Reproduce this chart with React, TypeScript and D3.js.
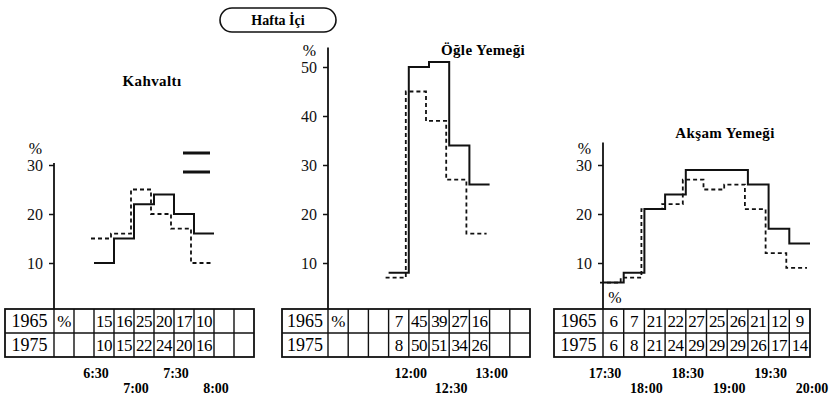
import React, { useRef, useEffect } from "react";
import * as d3 from "d3";

// table rows
const years = ["1965", "1975"];

// each table cell is a 15 minute slot, values in %
const breakfastStart = "6:00";
const breakfast1965 = [null, null, 15, 16, 25, 20, 17, 10, null, null];
const breakfast1975 = [null, null, 10, 15, 22, 24, 20, 16, null, null];
const breakfastTimes = ["6:30", "7:00", "7:30", "8:00"];
const breakfastTicks = [10, 20, 30];

const lunchStart = "11:00";
const lunch1965 = [null, null, null, 7, 45, 39, 27, 16, null, null];
const lunch1975 = [null, null, null, 8, 50, 51, 34, 26, null, null];
const lunchTimes = ["12:00", "12:30", "13:00"];
const lunchTicks = [10, 20, 30, 40, 50];

const dinnerStart = "17:30";
const dinner1965 = [6, 7, 21, 22, 27, 25, 26, 21, 12, 9];
const dinner1975 = [6, 8, 21, 24, 29, 29, 29, 26, 17, 14];
const dinnerTimes = ["17:30", "18:00", "18:30", "19:00", "19:30", "20:00"];
const dinnerTicks = [10, 20, 30];

const SLOT = 15;
const SERIF = '"Liberation Serif", "DejaVu Serif", "Times New Roman", serif';

type Values = (number | null)[];

type Panel = {
  title: string;
  start: string;
  v1965: Values;
  v1975: Values;
  times: string[];
  ticks: number[];
  // layout
  tableLeft: number;
  axisX: number;
  tableRight: number;
  axisTop: number;
  titleX: number;
  titleY: number;
  percentInTable: boolean;
  legend?: { x1: number; x2: number; ys: number[] };
};

const panels: Panel[] = [
  {
    title: "Kahvaltı",
    start: breakfastStart,
    v1965: breakfast1965,
    v1975: breakfast1975,
    times: breakfastTimes,
    ticks: breakfastTicks,
    tableLeft: 5,
    axisX: 54,
    tableRight: 254,
    axisTop: 30.4,
    titleX: 152,
    titleY: 86,
    percentInTable: true,
    legend: { x1: 183, x2: 210, ys: [153, 172] },
  },
  {
    title: "Öğle Yemeği",
    start: lunchStart,
    v1965: lunch1965,
    v1975: lunch1975,
    times: lunchTimes,
    ticks: lunchTicks,
    tableLeft: 282,
    axisX: 328,
    tableRight: 530,
    axisTop: 54,
    titleX: 483,
    titleY: 55,
    percentInTable: true,
  },
  {
    title: "Akşam Yemeği",
    start: dinnerStart,
    v1965: dinner1965,
    v1975: dinner1975,
    times: dinnerTimes,
    ticks: dinnerTicks,
    tableLeft: 554,
    axisX: 603,
    tableRight: 810,
    axisTop: 34.6,
    titleX: 725,
    titleY: 138,
    percentInTable: false,
  },
];

const toMinutes = (t: string) => {
  const [h, m] = t.split(":").map(Number);
  return h * 60 + m;
};

const App: React.FC = () => {
  const d3Container = useRef<SVGSVGElement | null>(null);

  useEffect(() => {
    const width = 837;
    const height = 402;
    const tableTop = 309;
    const rowH = 24;

    const svg = d3.select(d3Container.current);
    svg.selectChildren().remove();
    svg
      .attr("width", width)
      .attr("height", height)
      .style("font-family", SERIF);

    // shared value scale, zero sits on the table top
    const y = d3.scaleLinear().domain([0, 10]).range([312, 263]);

    // header
    const head = svg.append("g");
    head
      .append("rect")
      .attr("x", 220)
      .attr("y", 8)
      .attr("width", 116)
      .attr("height", 24)
      .attr("rx", 12)
      .attr("fill", "none")
      .attr("stroke", "#111")
      .attr("stroke-width", 1.6);
    head
      .append("text")
      .attr("x", 278)
      .attr("y", 25)
      .attr("text-anchor", "middle")
      .style("font-family", SERIF)
      .attr("font-weight", "bold")
      .attr("font-size", 14)
      .text("Hafta İçi");

    panels.forEach((p) => {
      const g = svg.append("g");
      const n = p.v1965.length;
      const t0 = toMinutes(p.start);
      const x = d3
        .scaleLinear()
        .domain([t0, t0 + n * SLOT])
        .range([p.axisX, p.tableRight]);

      // title
      g.append("text")
        .attr("x", p.titleX)
        .attr("y", p.titleY)
        .attr("text-anchor", "middle")
        .style("font-family", SERIF)
        .attr("font-weight", "bold")
        .attr("font-size", 15)
        .attr("letter-spacing", 0.4)
        .text(p.title);

      // y axis
      g.append("line")
        .attr("x1", p.axisX)
        .attr("x2", p.axisX)
        .attr("y1", y(p.axisTop))
        .attr("y2", tableTop)
        .attr("stroke", "#111")
        .attr("stroke-width", 1.8);

      const axis = g
        .append("g")
        .attr("transform", `translate(${p.axisX},0)`)
        .call(
          d3
            .axisLeft(y)
            .tickValues(p.ticks)
            .tickSize(5)
            .tickPadding(6)
            .tickFormat(d3.format("d"))
        );
      axis.select(".domain").remove();
      axis.selectAll("line").attr("stroke", "#111").attr("stroke-width", 1.5);
      axis
        .selectAll("text")
        .style("font-family", SERIF)
        .attr("font-size", 16)
        .attr("fill", "#111");

      g.append("text")
        .attr("x", p.axisX - 12)
        .attr("y", y(d3.max(p.ticks) as number) - 11)
        .attr("text-anchor", "end")
        .style("font-family", SERIF)
        .attr("font-size", 16)
        .text("%");

      // step lines
      const stepPoints = (vals: Values) => {
        const pts: [number, number][] = [];
        vals.forEach((v, i) => {
          if (v !== null) pts.push([t0 + i * SLOT, v]);
        });
        if (pts.length) {
          const last = pts[pts.length - 1];
          pts.push([last[0] + SLOT, last[1]]);
        }
        return pts;
      };

      const line = (dx: number) =>
        d3
          .line<[number, number]>()
          .x((d) => x(d[0]) + dx)
          .y((d) => y(d[1]))
          .curve(d3.curveStepAfter);

      g.append("path")
        .datum(stepPoints(p.v1965))
        .attr("fill", "none")
        .attr("stroke", "#111")
        .attr("stroke-width", 1.8)
        .attr("stroke-dasharray", "4,3")
        .attr("d", line(-3));

      g.append("path")
        .datum(stepPoints(p.v1975))
        .attr("fill", "none")
        .attr("stroke", "#111")
        .attr("stroke-width", 2)
        .attr("d", line(0));

      if (p.legend) {
        p.legend.ys.forEach((ly) => {
          g.append("line")
            .attr("x1", p.legend!.x1)
            .attr("x2", p.legend!.x2)
            .attr("y1", ly)
            .attr("y2", ly)
            .attr("stroke", "#111")
            .attr("stroke-width", 3);
        });
      }

      if (!p.percentInTable) {
        g.append("text")
          .attr("x", x(t0) + 12)
          .attr("y", 303)
          .attr("text-anchor", "middle")
          .style("font-family", SERIF)
          .attr("font-size", 16)
          .text("%");
      }

      // table
      const table = g.append("g");
      table
        .append("rect")
        .attr("x", p.tableLeft)
        .attr("y", tableTop)
        .attr("width", p.tableRight - p.tableLeft)
        .attr("height", rowH * 2)
        .attr("fill", "none")
        .attr("stroke", "#111")
        .attr("stroke-width", 1.8);
      table
        .append("line")
        .attr("x1", p.tableLeft)
        .attr("x2", p.tableRight)
        .attr("y1", tableTop + rowH)
        .attr("y2", tableTop + rowH)
        .attr("stroke", "#111")
        .attr("stroke-width", 1.4);
      d3.range(n).forEach((i) => {
        const cx = x(t0 + i * SLOT);
        table
          .append("line")
          .attr("x1", cx)
          .attr("x2", cx)
          .attr("y1", tableTop)
          .attr("y2", tableTop + rowH * 2)
          .attr("stroke", "#111")
          .attr("stroke-width", 1.4);
      });

      [p.v1965, p.v1975].forEach((vals, r) => {
        const ty = tableTop + rowH * r + 18;
        table
          .append("text")
          .attr("x", (p.tableLeft + p.axisX) / 2)
          .attr("y", ty)
          .attr("text-anchor", "middle")
          .style("font-family", SERIF)
          .attr("font-size", 18)
          .text(years[r]);
        vals.forEach((v, i) => {
          const label =
            v !== null ? String(v) : r === 0 && i === 0 && p.percentInTable ? "%" : "";
          if (!label) return;
          table
            .append("text")
            .attr("x", (x(t0 + i * SLOT) + x(t0 + (i + 1) * SLOT)) / 2)
            .attr("y", ty)
            .attr("text-anchor", "middle")
            .style("font-family", SERIF)
            .attr("font-size", 17)
            .attr("letter-spacing", -0.6)
            .text(label);
        });
      });

      // time labels, alternating rows
      p.times.forEach((t, i) => {
        g.append("text")
          .attr("x", x(toMinutes(t)) + 2)
          .attr("y", i % 2 === 0 ? 378 : 393)
          .attr("text-anchor", "middle")
          .style("font-family", SERIF)
          .attr("font-weight", "bold")
          .attr("font-size", 14)
          .text(t);
      });
    });
  }, []);

  return (
    <div>
      <svg
        ref={d3Container}
        style={{ position: "absolute", left: 0, top: 0, background: "#fff" }}
      />
    </div>
  );
};

export default App;
